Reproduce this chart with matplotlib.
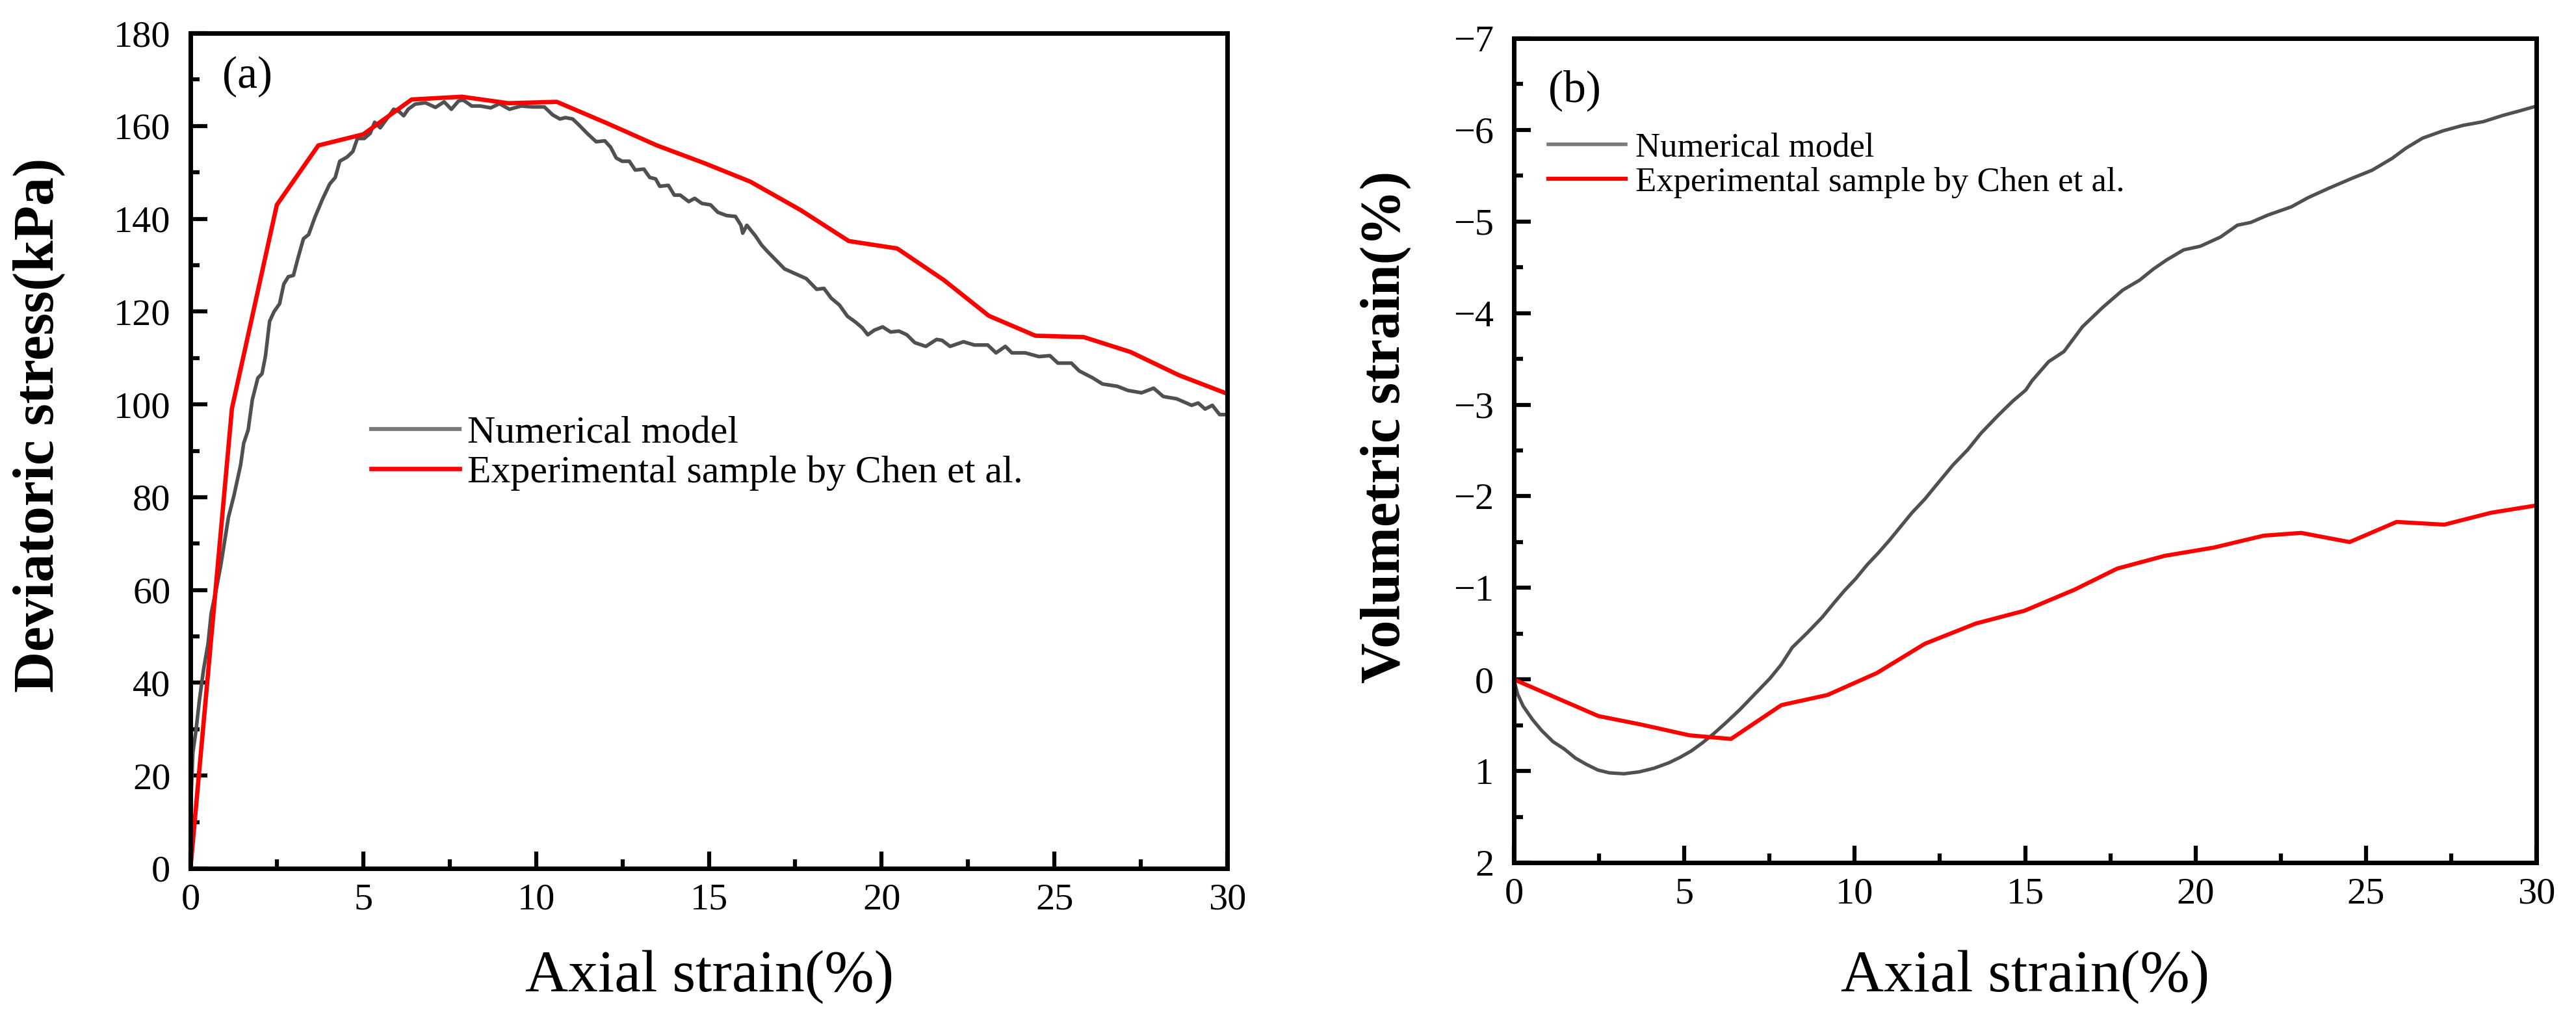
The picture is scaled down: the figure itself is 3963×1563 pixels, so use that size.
import matplotlib
matplotlib.use("Agg")
import matplotlib.pyplot as plt
from matplotlib.ticker import MultipleLocator
from matplotlib.lines import Line2D

plt.rcParams['font.family'] = ['Liberation Serif', 'DejaVu Serif']
plt.rcParams['axes.unicode_minus'] = True

# ---------------- data: panel (a) ----------------
num_a_x = [0, 0.01, 0.07, 0.16, 0.26, 0.38, 0.51, 0.60, 0.76, 0.88, 0.98, 1.10, 1.26, 1.45, 1.54,
           1.67, 1.79, 1.95, 2.07, 2.17, 2.29, 2.42, 2.58, 2.70, 2.83, 2.98, 3.11, 3.27, 3.42,
           3.60, 3.82, 4.03, 4.19, 4.32, 4.53, 4.70, 4.83, 5.03, 5.20, 5.33, 5.49, 5.62, 5.88,
           6.04, 6.17, 6.30, 6.50, 6.80, 7.09, 7.34, 7.55, 7.76, 7.89, 8.14, 8.39, 8.69, 8.94,
           9.23, 9.57, 9.90, 10.24, 10.48, 10.69, 10.85, 11.06, 11.23, 11.48, 11.74, 11.99,
           12.16, 12.32, 12.49, 12.70, 12.87, 13.12, 13.29, 13.46, 13.58, 13.83, 14.00, 14.17,
           14.42, 14.59, 14.80, 15.05, 15.26, 15.51, 15.77, 15.93, 15.98, 16.10, 16.35, 16.52,
           16.69, 16.94, 17.19, 17.40, 17.61, 17.82, 18.12, 18.33, 18.54, 18.78, 19.01, 19.25,
           19.44, 19.60, 19.79, 20.03, 20.26, 20.50, 20.73, 20.96, 21.28, 21.59, 21.75, 21.98,
           22.37, 22.68, 23.07, 23.31, 23.58, 23.77, 24.16, 24.55, 24.87, 25.10, 25.49, 25.72,
           26.11, 26.39, 26.82, 27.13, 27.52, 27.87, 28.15, 28.54, 28.97, 29.16, 29.36, 29.57,
           29.78, 30.0]
num_a_y = [0, 13.8, 25.0, 29.7, 36.3, 42.9, 48.5, 55.0, 60.7, 65.4, 70.1, 75.7, 80.4, 86.9, 91.6,
           94.5, 101.0, 105.7, 106.6, 110.4, 117.9, 120.0, 121.7, 125.9, 127.5, 127.8, 131.5,
           135.7, 136.6, 140.3, 144.2, 147.5, 148.9, 152.4, 153.3, 154.5, 157.3, 157.3, 158.4,
           160.8, 159.6, 160.9, 163.6, 163.1, 162.2, 163.6, 164.7, 165.0, 164.0, 165.2, 163.6,
           165.4, 165.6, 164.3, 164.3, 163.9, 164.8, 163.6, 164.3, 164.1, 164.1, 162.4, 161.5,
           161.8, 161.5, 160.3, 158.4, 156.6, 156.8, 155.4, 153.1, 152.4, 152.4, 150.5, 150.7,
           148.9, 148.6, 147.0, 147.2, 145.1, 145.1, 143.7, 144.4, 143.3, 143.0, 141.4, 140.7,
           140.5, 138.6, 136.9, 138.6, 136.3, 134.4, 133.0, 131.1, 129.2, 128.5, 127.8, 127.1,
           124.8, 125.0, 122.9, 121.4, 119.0, 117.7, 116.5, 115.0, 116.0, 116.7, 115.6, 115.8,
           115.0, 113.3, 112.5, 114.0, 113.8, 112.5, 113.5, 112.8, 112.8, 111.1, 112.5, 111.1,
           111.1, 110.3, 110.5, 108.9, 108.9, 107.2, 105.7, 104.4, 103.9, 103.0, 102.5, 103.5,
           101.7, 101.2, 99.8, 100.3, 99.0, 99.8, 97.8, 97.8]

exp_a_x = [0, 1.2, 2.5, 3.7, 5.0, 6.4, 7.85, 9.2, 10.6, 12.05, 13.5, 14.9, 16.2, 17.65, 19.05,
           20.45, 21.8, 23.1, 24.45, 25.85, 27.2, 28.6, 30.0]
exp_a_y = [0, 99.1, 143.0, 155.8, 158.2, 165.7, 166.3, 164.9, 165.2, 160.6, 155.8, 151.9, 148.0,
           141.9, 135.2, 133.6, 126.8, 119.1, 114.8, 114.5, 111.3, 106.3, 102.3]

# ---------------- data: panel (b) ----------------
num_b_x = [0, 0.11, 0.27, 0.55, 0.82, 1.15, 1.48, 1.81, 2.14, 2.47, 2.80, 3.23, 3.67, 4.11, 4.55,
           4.88, 5.21, 5.54, 5.87, 6.20, 6.63, 7.07, 7.51, 7.84, 8.17, 8.61, 9.05, 9.38, 9.70,
           10.03, 10.36, 10.69, 11.02, 11.35, 11.68, 12.06, 12.39, 12.88, 13.32, 13.71, 14.20,
           14.64, 15.02, 15.20, 15.69, 16.14, 16.68, 17.27, 17.86, 18.36, 18.76, 19.15, 19.65,
           20.14, 20.73, 21.23, 21.62, 22.12, 22.81, 23.30, 23.89, 24.58, 25.18, 25.77, 26.17,
           26.66, 27.26, 27.85, 28.44, 29.03, 29.53, 30.0]
num_b_y = [0, 0.16, 0.29, 0.44, 0.56, 0.68, 0.76, 0.86, 0.93, 0.99, 1.02, 1.03, 1.01, 0.97, 0.91,
           0.85, 0.78, 0.69, 0.59, 0.48, 0.33, 0.16, -0.01, -0.16, -0.35, -0.51, -0.68, -0.83,
           -0.97, -1.10, -1.25, -1.38, -1.52, -1.67, -1.82, -1.97, -2.12, -2.34, -2.51, -2.69,
           -2.88, -3.04, -3.16, -3.26, -3.47, -3.58, -3.85, -4.06, -4.25, -4.36, -4.48, -4.58,
           -4.69, -4.73, -4.83, -4.96, -4.99, -5.07, -5.16, -5.26, -5.36, -5.47, -5.56, -5.69,
           -5.80, -5.91, -5.99, -6.05, -6.09, -6.16, -6.21, -6.26]

exp_b_x = [0, 2.48, 3.7, 5.15, 6.37, 7.85, 9.2, 10.65, 12.06, 13.55, 14.98, 16.45, 17.7, 19.1,
           20.54, 22.0, 23.1, 24.52, 25.9, 27.3, 28.67, 30.0]
exp_b_y = [0, 0.40, 0.49, 0.61, 0.65, 0.28, 0.17, -0.07, -0.39, -0.61, -0.75, -0.98, -1.21,
           -1.35, -1.44, -1.57, -1.60, -1.50, -1.72, -1.69, -1.82, -1.90]

labels = ["Numerical model", "Experimental sample by Chen et al."]
x_ticks = [0, 5, 10, 15, 20, 25, 30]
a_yticks = [0, 20, 40, 60, 80, 100, 120, 140, 160, 180]
b_yticks = [-7, -6, -5, -4, -3, -2, -1, 0, 1, 2]

GREY = '#505050'
GREY_LEG = '#7a7a7a'
RED = '#ff0000'

W, H = 3963, 1563
fig = plt.figure(figsize=(W / 100, H / 100), dpi=100)
axa = fig.add_axes([293 / W, 1 - 1336 / H, (1888 - 293) / W, (1336 - 51) / H])
axb = fig.add_axes([2329 / W, 1 - 1327 / H, (3902 - 2329) / W, (1327 - 59) / H])

for ax in (axa, axb):
    for sp in ax.spines.values():
        sp.set_linewidth(5)
    ax.tick_params(which='both', direction='in', top=False, right=False, width=4.5,
                   labelsize=42)
    ax.tick_params(which='major', length=19)
    ax.tick_params(which='minor', length=10)
    ax.tick_params(axis='x', pad=16)
    ax.tick_params(axis='y', pad=22)
    ax.set_xlim(0, 30)
    ax.set_xticks(x_ticks)
    ax.xaxis.set_minor_locator(MultipleLocator(2.5))

# panel (a)
axa.plot(num_a_x, num_a_y, color=GREY, lw=4.0)
axa.plot(exp_a_x, exp_a_y, color=RED, lw=4.8)
axa.set_ylim(0, 180)
axa.set_yticks(a_yticks)
axa.yaxis.set_minor_locator(MultipleLocator(10))
handles = [Line2D([], [], color=GREY_LEG, lw=4.5), Line2D([], [], color=RED, lw=4.8)]
axa.legend(handles, labels, loc='upper left', bbox_to_anchor=(0.1743, 0.542),
           frameon=False, fontsize=43, handlelength=2.27, handletextpad=0.2,
           labelspacing=0.1, borderpad=0, borderaxespad=0)
axa.text(0.0307, 0.972, "(a)", transform=axa.transAxes, fontsize=50, ha='left', va='top')

# panel (b)
axb.plot(num_b_x, num_b_y, color=GREY, lw=3.8)
axb.plot(exp_b_x, exp_b_y, color=RED, lw=4.5)
axb.set_ylim(2, -7)
axb.set_yticks(b_yticks)
axb.yaxis.set_minor_locator(MultipleLocator(0.5))
handles_b = [Line2D([], [], color=GREY_LEG, lw=4.0), Line2D([], [], color=RED, lw=4.5)]
axb.legend(handles_b, labels, loc='upper left', bbox_to_anchor=(0.0337, 0.886),
           frameon=False, fontsize=38, handlelength=2.25, handletextpad=0.28,
           labelspacing=0.1, borderpad=0, borderaxespad=0)
axb.text(0.0337, 0.962, "(b)", transform=axb.transAxes, fontsize=50, ha='left', va='top')

# axis labels
fig.text(60 / W, 1 - 654 / H, "Deviatoric stress(kPa)", rotation=90, ha='center', va='center',
         fontsize=63, fontweight='bold')
fig.text(2132 / W, 1 - 657 / H, "Volumetric strain(%)", rotation=90, ha='center', va='center',
         fontsize=62, fontweight='bold')
fig.text(1092 / W, 1 - 1503 / H, "Axial strain(%)", ha='center', va='center', fontsize=66)
fig.text(3116 / W, 1 - 1503 / H, "Axial strain(%)", ha='center', va='center', fontsize=66)

fig.savefig("out.png", dpi=100, facecolor='white')
